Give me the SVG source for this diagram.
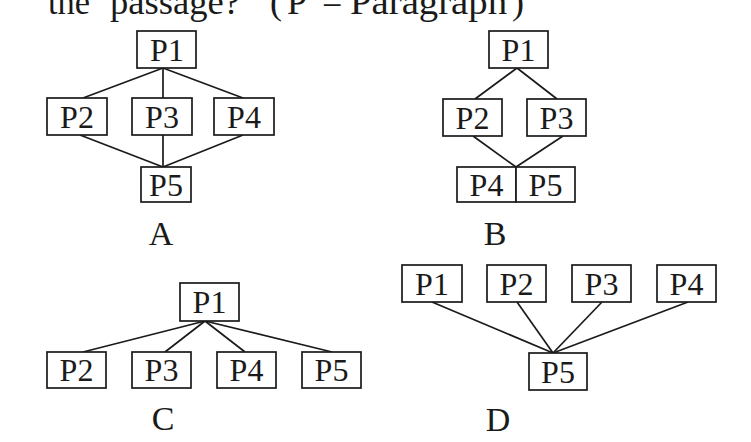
<svg xmlns="http://www.w3.org/2000/svg" width="751" height="442" viewBox="0 0 751 442">
<style>
.box{fill:#fff;stroke:#1a1a1a;stroke-width:1.7}
.lbl{font-family:"Liberation Serif","Times New Roman",serif;font-size:32px;fill:#1a1a1a;text-anchor:middle}
.cap{font-family:"Liberation Serif","Times New Roman",serif;font-size:34px;fill:#1a1a1a;text-anchor:middle}
.hd{font-family:"Liberation Serif","Times New Roman",serif;font-size:36px;fill:#1a1a1a}
.ln{stroke:#1a1a1a;stroke-width:1.7;fill:none}
</style>
<rect width="751" height="442" fill="#fff"/>
<text class="hd" y="14"><tspan x="48" textLength="42" lengthAdjust="spacingAndGlyphs">the</tspan><tspan x="110" textLength="130" lengthAdjust="spacingAndGlyphs">passage?</tspan><tspan x="270">(</tspan><tspan x="287">P</tspan><tspan x="322">=</tspan><tspan x="350" textLength="157" lengthAdjust="spacingAndGlyphs">Paragraph</tspan><tspan x="512">)</tspan></text>
<g id="connectors">
<g id="conn-A">
<line class="ln" x1="163" y1="68" x2="83" y2="98"/>
<line class="ln" x1="163" y1="68" x2="163" y2="98"/>
<line class="ln" x1="163" y1="68" x2="243" y2="98"/>
<line class="ln" x1="80" y1="135" x2="163" y2="167"/>
<line class="ln" x1="163" y1="135" x2="163" y2="167"/>
<line class="ln" x1="243" y1="135" x2="163" y2="167"/>
</g>
<g id="conn-B">
<line class="ln" x1="517" y1="68" x2="475" y2="99"/>
<line class="ln" x1="517" y1="68" x2="557" y2="99"/>
<line class="ln" x1="473" y1="136" x2="516" y2="167"/>
<line class="ln" x1="563" y1="136" x2="516" y2="167"/>
</g>
<g id="conn-C">
<line class="ln" x1="205" y1="321" x2="83" y2="352"/>
<line class="ln" x1="205" y1="321" x2="165" y2="352"/>
<line class="ln" x1="205" y1="321" x2="245" y2="352"/>
<line class="ln" x1="205" y1="321" x2="332" y2="352"/>
</g>
<g id="conn-D">
<line class="ln" x1="432" y1="302" x2="553" y2="353"/>
<line class="ln" x1="517" y1="302" x2="553" y2="353"/>
<line class="ln" x1="602" y1="302" x2="553" y2="353"/>
<line class="ln" x1="688" y1="302" x2="553" y2="353"/>
</g>
</g>
<!-- Diagram A -->
<g id="A-P1"><rect class="box" x="137" y="31" width="59" height="37"/><text class="lbl" x="167" y="60.5">P1</text></g>
<g id="A-P2"><rect class="box" x="47" y="98" width="60" height="37"/><text class="lbl" x="77" y="127.5">P2</text></g>
<g id="A-P3"><rect class="box" x="132" y="98" width="60" height="37"/><text class="lbl" x="162" y="127.5">P3</text></g>
<g id="A-P4"><rect class="box" x="214" y="98" width="60" height="37"/><text class="lbl" x="244" y="127.5">P4</text></g>
<g id="A-P5"><rect class="box" x="141" y="167" width="50" height="35"/><text class="lbl" x="166" y="195.5">P5</text></g>
<text class="cap" x="161" y="245">A</text>
<!-- Diagram B -->
<g id="B-P1"><rect class="box" x="489" y="31" width="59" height="37"/><text class="lbl" x="518.5" y="60.5">P1</text></g>
<g id="B-P2"><rect class="box" x="443" y="99" width="59" height="37"/><text class="lbl" x="472.5" y="128.5">P2</text></g>
<g id="B-P3"><rect class="box" x="527" y="99" width="59" height="37"/><text class="lbl" x="556.5" y="128.5">P3</text></g>
<g id="B-P4"><rect class="box" x="457" y="167" width="59" height="35"/><text class="lbl" x="486.5" y="195.5">P4</text></g>
<g id="B-P5"><rect class="box" x="516" y="167" width="59" height="35"/><text class="lbl" x="545.5" y="195.5">P5</text></g>
<text class="cap" x="495" y="245">B</text>
<!-- Diagram C -->
<g id="C-P1"><rect class="box" x="180" y="283" width="59" height="38"/><text class="lbl" x="209.5" y="313">P1</text></g>
<g id="C-P2"><rect class="box" x="47" y="352" width="59" height="36"/><text class="lbl" x="76.5" y="381">P2</text></g>
<g id="C-P3"><rect class="box" x="132" y="352" width="59" height="36"/><text class="lbl" x="161.5" y="381">P3</text></g>
<g id="C-P4"><rect class="box" x="217" y="352" width="59" height="36"/><text class="lbl" x="246.5" y="381">P4</text></g>
<g id="C-P5"><rect class="box" x="302" y="352" width="59" height="36"/><text class="lbl" x="331.5" y="381">P5</text></g>
<text class="cap" x="163" y="430">C</text>
<!-- Diagram D -->
<g id="D-P1"><rect class="box" x="402" y="265" width="60" height="37"/><text class="lbl" x="432" y="294.5">P1</text></g>
<g id="D-P2"><rect class="box" x="487" y="265" width="59" height="37"/><text class="lbl" x="516.5" y="294.5">P2</text></g>
<g id="D-P3"><rect class="box" x="572" y="265" width="59" height="37"/><text class="lbl" x="601.5" y="294.5">P3</text></g>
<g id="D-P4"><rect class="box" x="657" y="265" width="59" height="37"/><text class="lbl" x="686.5" y="294.5">P4</text></g>
<g id="D-P5"><rect class="box" x="529" y="353" width="58" height="37"/><text class="lbl" x="558" y="382.5">P5</text></g>
<text class="cap" x="498" y="431">D</text>
</svg>
